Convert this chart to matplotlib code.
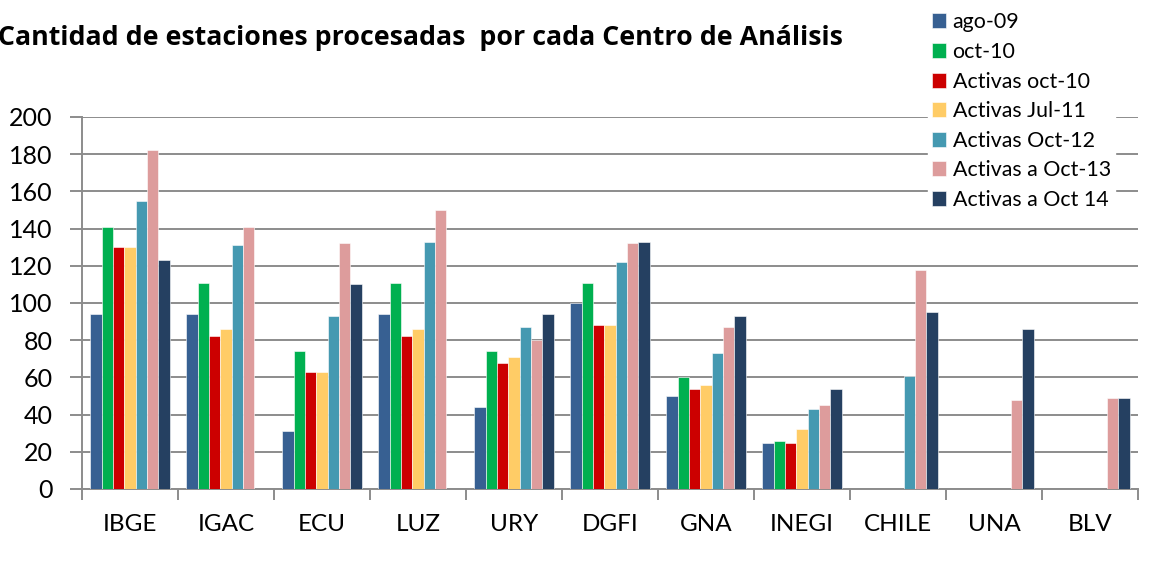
import matplotlib
matplotlib.use("Agg")
import matplotlib.pyplot as plt
import numpy as np

categories = ["IBGE", "IGAC", "ECU", "LUZ", "URY", "DGFI", "GNA", "INEGI", "CHILE", "UNA", "BLV"]
series_names = ["ago-09", "oct-10", "Activas oct-10", "Activas Jul-11",
                "Activas Oct-12", "Activas a Oct-13", "Activas a Oct 14"]
nan = np.nan
ago09 = [94, 94, 31, 94, 44, 100, 50, 25, nan, nan, nan]
oct10 = [141, 111, 74, 111, 74, 111, 60, 26, nan, nan, nan]
act_oct10 = [130, 82, 63, 82, 68, 88, 54, 25, nan, nan, nan]
act_jul11 = [130, 86, 63, 86, 71, 88, 56, 32, nan, nan, nan]
act_oct12 = [155, 131, 93, 133, 87, 122, 73, 43, 61, nan, nan]
act_oct13 = [182, 141, 132, 150, 80, 132, 87, 45, 118, 48, 49]
act_oct14 = [123, nan, 110, nan, 94, 133, 93, 54, 95, 86, 49]
series = [ago09, oct10, act_oct10, act_jul11, act_oct12, act_oct13, act_oct14]
colors = ["#376092", "#00B050", "#CC0000", "#FFCC66", "#4599B1", "#DD9C9C", "#254061"]
yticks = [0, 20, 40, 60, 80, 100, 120, 140, 160, 180, 200]

plt.rcParams['font.family'] = ['Lato', 'DejaVu Sans']

fig = plt.figure(figsize=(11.55, 5.73), dpi=100)
ax = fig.add_axes([82/1155, 1-489/573, (1138-82)/1155, (489-117)/573])

x = np.arange(len(categories))
w = 0.118
for i, (vals, c, name) in enumerate(zip(series, colors, series_names)):
    ax.bar(x + (i - 3) * w, vals, width=w, color=c, label=name,
           edgecolor="white", linewidth=0.4, zorder=3)

ax.set_xlim(-0.5, len(categories) - 0.5)
ax.set_ylim(0, 200)
ax.set_yticks(yticks)
ax.set_yticklabels([str(v) for v in yticks], fontsize=18)
ax.yaxis.grid(True, color="#8C8C8C", linewidth=1.4, zorder=0)
ax.set_axisbelow(True)

ax.set_xticks(x)
ax.set_xticklabels(categories, fontsize=17.5)
ax.set_xticks(np.arange(len(categories) + 1) - 0.5, minor=True)
ax.tick_params(axis='x', which='major', length=0, pad=18)
ax.tick_params(axis='x', which='minor', length=8, width=1.4, color="#8C8C8C", direction='out')
ax.tick_params(axis='y', length=9, width=1.4, color="#8C8C8C", direction='out', pad=12)

for s in ["top", "right"]:
    ax.spines[s].set_visible(False)
for s in ["left", "bottom"]:
    ax.spines[s].set_color("#8C8C8C")
    ax.spines[s].set_linewidth(1.4)

fig.text(-0.002, 1 - 38/573, "Cantidad de estaciones procesadas  por cada Centro de Análisis",
         fontsize=19.3, fontweight="bold", family=["Open Sans", "DejaVu Sans"],
         ha="left", va="center")

leg = fig.legend(loc="upper left", bbox_to_anchor=(928/1155, 1 - 8/573),
                 fontsize=15.4, frameon=True, framealpha=1, edgecolor="white",
                 facecolor="white", handlelength=0.65, handleheight=0.7,
                 handletextpad=0.3, labelspacing=0.45, borderpad=0.2,
                 borderaxespad=0)
leg.set_zorder(10)

fig.savefig("out.png", dpi=100)
